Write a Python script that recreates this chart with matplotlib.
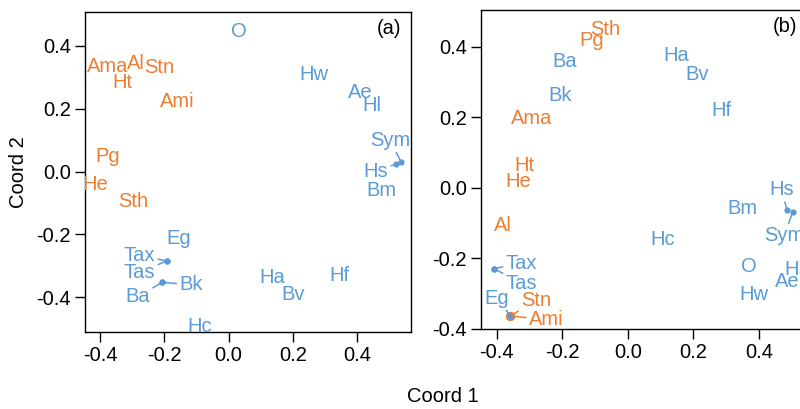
import matplotlib.pyplot as plt
from matplotlib.transforms import ScaledTranslation

plt.rcParams['font.family'] = ['Liberation Sans', 'DejaVu Sans']
plt.rcParams['font.size'] = 14.5

BLUE = '#5b9bd5'
ORANGE = '#ed7d31'

# panel (a): label names, group (1 = orange) and label positions
names_a = ['O', 'Ama', 'Al', 'Stn', 'Ht', 'Ami', 'Hw', 'Ae', 'Hl', 'Sym', 'Hs', 'Bm',
           'Pg', 'He', 'Sth', 'Eg', 'Tax', 'Tas', 'Bk', 'Ba', 'Ha', 'Bv', 'Hf', 'Hc']
group_a = [0, 1, 1, 1, 1, 1, 0, 0, 0, 0, 0, 0,
           1, 1, 1, 0, 0, 0, 0, 0, 0, 0, 0, 0]
x_a = [0.031, -0.377, -0.289, -0.215, -0.330, -0.161, 0.267, 0.410, 0.447, 0.502, 0.459, 0.475,
       -0.377, -0.415, -0.296, -0.155, -0.277, -0.277, -0.117, -0.283, 0.135, 0.201, 0.346, -0.090]
y_a = [0.452, 0.339, 0.351, 0.337, 0.289, 0.228, 0.315, 0.257, 0.217, 0.106, 0.007, -0.055,
       0.055, -0.035, -0.090, -0.206, -0.261, -0.314, -0.354, -0.391, -0.331, -0.384, -0.323, -0.487]
# points whose labels were pushed away (drawn with a leader segment)
lead_a = {'Sym': (0.538, 0.029), 'Hs': (0.522, 0.024),
          'Tax': (-0.192, -0.284), 'Tas': (-0.192, -0.284),
          'Bk': (-0.206, -0.352), 'Ba': (-0.206, -0.352)}

# panel (b)
names_b = ['Sth', 'Pg', 'Ba', 'Bk', 'Ama', 'Ht', 'He', 'Al', 'Tax', 'Tas', 'Eg', 'Stn', 'Ami',
           'Ha', 'Bv', 'Hf', 'Hc', 'Bm', 'Hs', 'Sym', 'O', 'Hl', 'Ae', 'Hw']
group_b = [1, 1, 0, 0, 1, 1, 1, 1, 0, 0, 0, 1, 1,
           0, 0, 0, 0, 0, 0, 0, 0, 0, 0, 0]
x_b = [-0.069, -0.110, -0.194, -0.208, -0.294, -0.316, -0.334, -0.380, -0.325, -0.325, -0.400, -0.280, -0.249,
       0.147, 0.210, 0.286, 0.105, 0.349, 0.469, 0.477, 0.369, 0.506, 0.486, 0.384]
y_b = [0.453, 0.423, 0.365, 0.266, 0.203, 0.068, 0.023, -0.102, -0.208, -0.264, -0.307, -0.313, -0.368,
       0.382, 0.327, 0.226, -0.140, -0.054, 0.000, -0.130, -0.217, -0.225, -0.259, -0.297]
lead_b = {'Tax': (-0.409, -0.229), 'Tas': (-0.409, -0.229),
          'Stn': (-0.358, -0.363), 'Ami': (-0.358, -0.363), 'Eg': (-0.358, -0.363),
          'Hs': (0.486, -0.064), 'Sym': (0.503, -0.068)}

ticks = [-0.4, -0.2, 0.0, 0.2, 0.4]

W, H = 800, 409
fig = plt.figure(figsize=(W / 100, H / 100), dpi=100)


def make_axes(l, r, t, b):
    return fig.add_axes([l / W, 1 - b / H, (r - l) / W, (b - t) / H])


def draw_panel(ax, names, group, xs, ys, leads, xlim, ylim):
    # nudge text down a bit so the letters (not the line box) sit on the spot
    txt_tr = ax.transData + ScaledTranslation(0, -2 / 100, fig.dpi_scale_trans)

    # leader points: orange under blue so a shared spot shows both
    for name, g in sorted(zip(names, group), key=lambda p: -p[1]):
        if name in leads:
            c = ORANGE if g else BLUE
            ax.plot(*leads[name], 'o', color=c, ms=6.5 if g else 4.5,
                    mec='none', zorder=3)
    for name, g, x, y in zip(names, group, xs, ys):
        c = ORANGE if g else BLUE
        if name in leads:
            ax.annotate(name, xy=leads[name], xytext=(x, y), textcoords=txt_tr,
                        color=c, ha='center', va='center', annotation_clip=False,
                        arrowprops=dict(arrowstyle='-', color=c, lw=1.1,
                                        shrinkA=0, shrinkB=2))
        else:
            ax.text(x, y, name, color=c, ha='center', va='center',
                    transform=txt_tr, clip_on=True)
    ax.set_xlim(*xlim)
    ax.set_ylim(*ylim)
    ax.set_xticks(ticks)
    ax.set_yticks(ticks)
    fmt = plt.FuncFormatter(lambda v, p: f'{v:.1f}')
    ax.xaxis.set_major_formatter(fmt)
    ax.yaxis.set_major_formatter(fmt)
    ax.tick_params(direction='out', length=7, width=1, pad=3, labelsize=14.5)
    for s in ax.spines.values():
        s.set_linewidth(1)


ax1 = make_axes(85, 411, 12, 332)
draw_panel(ax1, names_a, group_a, x_a, y_a, lead_a, (-0.447, 0.568), (-0.51, 0.507))

ax2 = make_axes(481, 814, 10, 329)
draw_panel(ax2, names_b, group_b, x_b, y_b, lead_b, (-0.448, 0.568), (-0.4, 0.504))

fig.text(389 / W, 1 - 28 / H, '(a)', ha='center', va='center')
fig.text(785 / W, 1 - 27 / H, '(b)', ha='center', va='center')
fig.text(443 / W, 1 - 397 / H, 'Coord 1', ha='center', va='center')
fig.text(18 / W, 1 - 172 / H, 'Coord 2', ha='center', va='center', rotation=90)

fig.savefig('out.png', dpi=100)
